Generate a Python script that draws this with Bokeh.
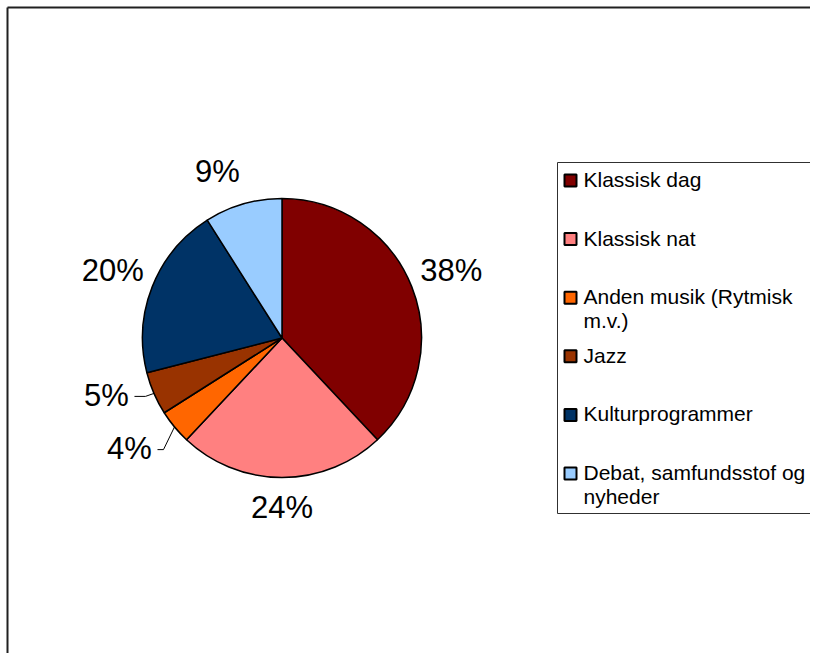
import math
import textwrap
from bokeh.plotting import figure
from bokeh.models import Range1d, ColumnDataSource
from bokeh.core.properties import value
from bokeh.embed import file_html
from bokeh.resources import INLINE

# ---- data ----
categories = ["Klassisk dag", "Klassisk nat", "Anden musik (Rytmisk m.v.)",
              "Jazz", "Kulturprogrammer", "Debat, samfundsstof og nyheder"]
values = [38, 24, 4, 5, 20, 9]
colors = ["#800000", "#FF8080", "#FF6600", "#993300", "#003366", "#99CCFF"]

# ---- layout constants ----
W, H = 810, 653
CX, CY, R = 281.5, 315.5, 139.5          # pie centre / radius (px)
label_dist = [182, 170, 189, 185, 182, 178]
label_shift = [0, 0, 3.4, 5.0, 0, -5.1]   # deg, label offset from slice mid-angle
leader_len = [0, 0, 6, 11, 0, 0]          # horizontal leader segment (0 = none)
FONT = "Liberation Sans"
PCT_SIZE = 31
LEG_SIZE = 21

p = figure(width=W, height=H, output_backend="svg", toolbar_location=None,
           x_range=Range1d(0, W), y_range=Range1d(0, H),
           min_border=0, x_axis_location=None, y_axis_location=None)
p.grid.visible = False
p.outline_line_color = None
p.background_fill_color = "white"
p.border_fill_color = "white"

# outer chart border (left and top visible)
p.multi_line(xs=[[7, 7], [7, W]], ys=[[0, H - 7], [H - 7, H - 7]],
             line_color="#202020", line_width=2)

# ---- pie ----
total = float(sum(values))
starts, ends, mids = [], [], []
cum = 0.0
for v in values:
    a0 = cum / total * 360.0
    cum += v
    a1 = cum / total * 360.0
    starts.append(math.radians(90 - a0))
    ends.append(math.radians(90 - a1))
    mids.append((a0 + a1) / 2.0)

src = ColumnDataSource(dict(x=[CX] * len(values), y=[CY] * len(values),
                            s=starts, e=ends, c=colors))
p.wedge(x="x", y="y", radius=R, start_angle="s", end_angle="e",
        direction="clock", fill_color="c", line_color="black",
        line_width=1.5, source=src)

# ---- data labels ----
lx, ly, lt = [], [], []
lead_xs, lead_ys = [], []
for i, v in enumerate(values):
    th = math.radians(mids[i] + label_shift[i])
    x = CX + label_dist[i] * math.sin(th)
    y = CY + label_dist[i] * math.cos(th)
    txt = f"{v}%"
    lx.append(x)
    ly.append(y + 1)
    lt.append(txt)
    if leader_len[i]:
        m = math.radians(mids[i])
        ex, ey = CX + R * math.sin(m), CY + R * math.cos(m)
        half_w = 22.0
        x_end = x + half_w + 6
        lead_xs.append([ex, x_end + leader_len[i], x_end])
        lead_ys.append([ey, y, y])

p.multi_line(xs=lead_xs, ys=lead_ys, line_color="black", line_width=1)
p.text(x=lx, y=ly, text=lt, text_font=value(FONT),
       text_font_size=f"{PCT_SIZE}px", text_align="center",
       text_baseline="alphabetic", text_color="black")

# ---- legend ----
LEG_LEFT, LEG_TOP, LEG_BOTTOM = 557, 491, 140
p.quad(left=[LEG_LEFT], right=[W], top=[LEG_TOP], bottom=[LEG_BOTTOM],
       fill_color="white", line_color=None)
p.multi_line(xs=[[W, LEG_LEFT, LEG_LEFT, W]],
             ys=[[LEG_TOP, LEG_TOP, LEG_BOTTOM, LEG_BOTTOM]],
             line_color="#303030", line_width=1)

row0, step, line_h = 473, 58.6, 24
mx, my, tx, ty, tt = [], [], [], [], []
for i, name in enumerate(categories):
    yc = row0 - i * step
    mx.append(570)
    my.append(yc)
    for j, line in enumerate(textwrap.wrap(name, 22)):
        tx.append(583)
        ty.append(yc + 1 - j * line_h)
        tt.append(line)

p.rect(x=mx, y=my, width=12, height=12, fill_color=colors,
       line_color="black", line_width=2)
p.text(x=tx, y=ty, text=tt, text_font=value(FONT),
       text_font_size=f"{LEG_SIZE}px", text_align="left",
       text_baseline="alphabetic", text_color="black")

open("out.html", "w").write(file_html(p, INLINE))
